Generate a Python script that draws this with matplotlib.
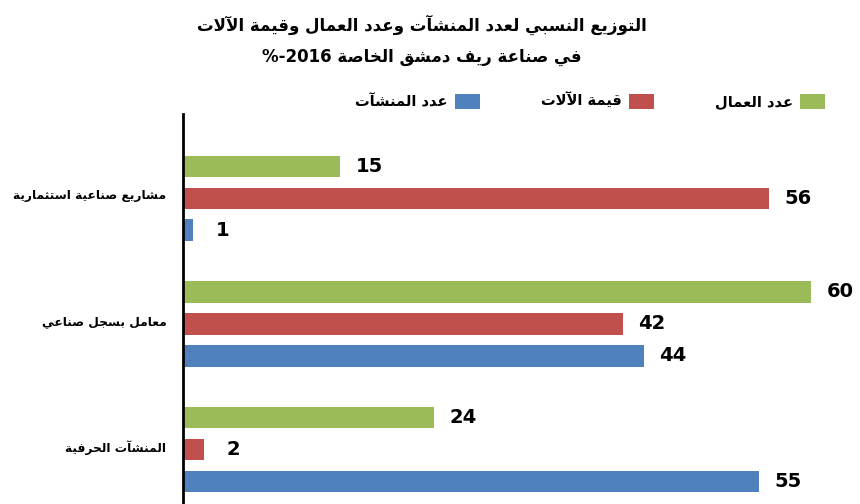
import numpy as np
import matplotlib
matplotlib.use("Agg")
import matplotlib.pyplot as plt

# data
CATEGORIES = ["مشاريع صناعية استثمارية", "معامل بسجل صناعي", "المنشآت الحرفية"]
SERIES = ["عدد العمال", "قيمة الآلات", "عدد المنشآت"]
WORKERS = [15, 60, 24]
MACHINES = [56, 42, 2]
FACILITIES = [1, 44, 55]
COLORS = ["#9BBB59", "#C0504D", "#4F81BD"]
TITLE_1 = "التوزيع النسبي لعدد المنشآت وعدد العمال وقيمة الآلات"
TITLE_2 = "في صناعة ريف دمشق الخاصة %-2016"

# minimal arabic shaping (matplotlib has no complex text layout)
DUAL = {'ب': 0xFE8F, 'ت': 0xFE95, 'ث': 0xFE99, 'ج': 0xFE9D, 'ح': 0xFEA1, 'خ': 0xFEA5,
        'س': 0xFEB1, 'ش': 0xFEB5, 'ص': 0xFEB9, 'ض': 0xFEBD, 'ط': 0xFEC1, 'ظ': 0xFEC5,
        'ع': 0xFEC9, 'غ': 0xFECD, 'ف': 0xFED1, 'ق': 0xFED5, 'ك': 0xFED9, 'ل': 0xFEDD,
        'م': 0xFEE1, 'ن': 0xFEE5, 'ه': 0xFEE9, 'ي': 0xFEF1}
RIGHT = {'آ': 0xFE81, 'أ': 0xFE83, 'إ': 0xFE87, 'ا': 0xFE8D, 'ة': 0xFE93, 'د': 0xFEA9,
         'ذ': 0xFEAB, 'ر': 0xFEAD, 'ز': 0xFEAF, 'و': 0xFEED, 'ى': 0xFEEF}
LAM_ALEF = {'آ': 0xFEF5, 'أ': 0xFEF7, 'إ': 0xFEF9, 'ا': 0xFEFB}


def shape(word):
    out = []
    i = 0
    prev_joins = False
    while i < len(word):
        c = word[i]
        nxt = word[i + 1] if i + 1 < len(word) else ''
        if c == 'ل' and nxt in LAM_ALEF:
            out.append(chr(LAM_ALEF[nxt] + (1 if prev_joins else 0)))
            prev_joins = False
            i += 2
            continue
        if c in DUAL:
            b = DUAL[c]
            joins_next = nxt in DUAL or nxt in RIGHT
            if prev_joins and joins_next:
                code = b + 3
            elif prev_joins:
                code = b + 1
            elif joins_next:
                code = b + 2
            else:
                code = b
            out.append(chr(code))
            prev_joins = joins_next
        elif c in RIGHT:
            out.append(chr(RIGHT[c] + (1 if prev_joins else 0)))
            prev_joins = False
        else:
            out.append(c)
            prev_joins = False
        i += 1
    return ''.join(out)


def ar(text):
    words = []
    for w in text.split(' '):
        if any(ch in DUAL or ch in RIGHT for ch in w):
            words.append(shape(w)[::-1])
        else:
            words.append(w)
    return ' '.join(reversed(words))


plt.rcParams['font.family'] = ['DejaVu Sans']

fig = plt.figure(figsize=(8.6, 5.04), dpi=100)
ax = fig.add_axes([183 / 860, 0, 677 / 860, 390 / 504])

y = np.arange(len(CATEGORIES))
off = 0.254
h = 0.167
values = [WORKERS, MACHINES, FACILITIES]
bars = []
for k, (vals, col) in enumerate(zip(values, COLORS)):
    b = ax.barh(y + (k - 1) * off, vals, height=h, color=col, label=ar(SERIES[k]))
    bars.append(b)
    for yy, v in zip(y + (k - 1) * off, vals):
        ax.annotate(str(v), (v, yy), xytext=(21, 0), textcoords='offset points',
                    ha='center', va='center', fontsize=14, fontweight='bold',
                    family=['Liberation Sans Narrow', 'DejaVu Sans'])

ax.set_xlim(0, 677 / 10.47)
ax.set_ylim(2.429, -0.667)
ax.set_yticks(y - 0.03)
ax.set_yticklabels([ar(c) for c in CATEGORIES], fontsize=8.8, fontweight='bold')
ax.tick_params(axis='y', length=0, pad=12)
ax.set_xticks([])
for s in ['top', 'right', 'bottom']:
    ax.spines[s].set_visible(False)
ax.spines['left'].set_linewidth(2)

fig.text(0.491, 0.95, ar(TITLE_1), ha='center', va='center', fontsize=12, fontweight='bold')
fig.text(0.491, 0.887, ar(TITLE_2), ha='center', va='center', fontsize=12, fontweight='bold')

# legend: right-to-left, swatch right of text
handles = [bars[2], bars[1], bars[0]]
ax.legend(handles, [ar(SERIES[2]), ar(SERIES[1]), ar(SERIES[0])], ncol=3,
          markerfirst=False, frameon=False, prop={'weight': 'bold', 'size': 10.5},
          handlelength=1.7, handleheight=1.2, handletextpad=0.5, columnspacing=4.2,
          loc='center', bbox_to_anchor=(590 / 860, 1 - 101 / 504),
          bbox_transform=fig.transFigure)

fig.savefig("out.png", dpi=100)
